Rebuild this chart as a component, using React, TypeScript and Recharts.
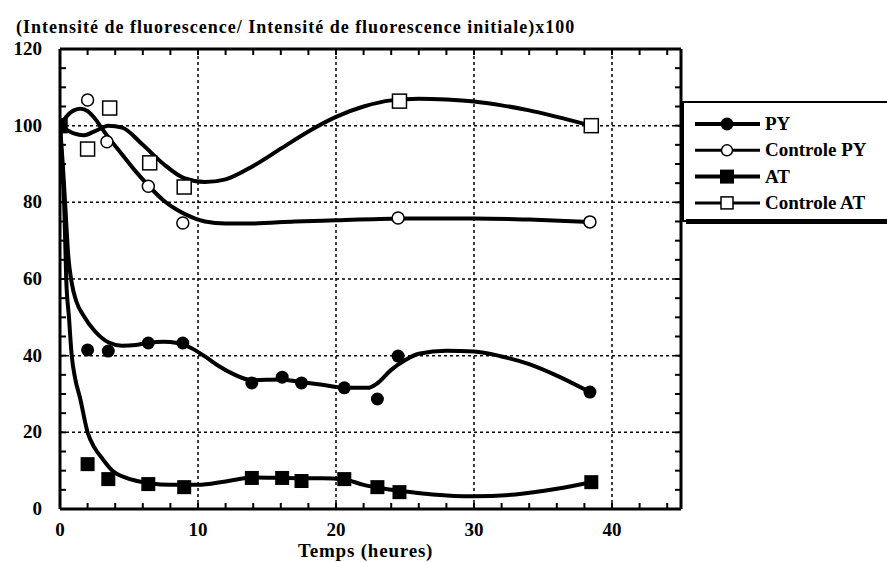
import React from "react";
import {
  ComposedChart,
  Line,
  Scatter,
  XAxis,
  YAxis,
  ReferenceLine,
} from "recharts";

// measured points
const pyTimes = [0, 2.0, 3.5, 6.4, 8.9, 13.9, 16.1, 17.5, 20.6, 23.0, 24.5, 38.4];
const pyValues = [100, 41.5, 41.2, 43.3, 43.3, 32.9, 34.4, 32.9, 31.6, 28.7, 39.9, 30.5];

const ctrlPyTimes = [0, 2.0, 3.4, 6.4, 8.9, 24.5, 38.4];
const ctrlPyValues = [100, 106.7, 95.8, 84.2, 74.6, 75.9, 74.9];

const atTimes = [0, 2.0, 3.5, 6.4, 9.0, 13.9, 16.1, 17.5, 20.6, 23.0, 24.6, 38.5];
const atValues = [100, 11.7, 7.8, 6.5, 5.7, 8.1, 8.1, 7.3, 7.8, 5.7, 4.4, 7.0];

const ctrlAtTimes = [0, 2.0, 3.6, 6.5, 9.0, 24.6, 38.5];
const ctrlAtValues = [100, 93.9, 104.6, 90.3, 84.0, 106.4, 100];

// fitted curves
const pyFitTimes = [0, 0.2, 0.4, 0.6, 0.85, 1.2, 1.7, 2.5, 3.5, 4.5, 5.5, 6.5, 7.5, 8.5, 9.5, 10.5, 11.5, 12.5, 13.9, 16, 17.5, 19, 20.6, 22.3, 23, 24, 25, 26, 28, 30, 32, 34, 36, 38.4];
const pyFitValues = [100, 90, 78, 66, 59, 54, 50.5, 46.5, 43.5, 42.6, 42.8, 43.4, 43.6, 43.3, 42, 39.8, 37.3, 35.3, 33.6, 33.8, 33.1, 32.4, 31.6, 31.6, 32.8, 36.3, 38.8, 40.5, 41.3, 41.1, 39.8, 37.8, 34.8, 30.5];

const ctrlPyFitTimes = [0, 0.5, 1, 1.5, 2, 2.5, 3, 3.5, 4.5, 5.5, 6.5, 7.5, 8.5, 9.5, 10.5, 12, 14, 17, 20, 25, 30, 34, 38.4];
const ctrlPyFitValues = [100, 102.5, 104, 104.4, 103.8, 102, 99.5, 97, 92.5, 88, 84, 80.5, 78, 76.2, 75, 74.5, 74.5, 75, 75.3, 75.8, 75.8, 75.5, 74.9];

const atFitTimes = [0, 0.15, 0.3, 0.45, 0.65, 0.85, 1.1, 1.45, 2.0, 2.5, 3.1, 3.8, 4.8, 6.4, 8, 10, 12, 14, 16, 17.5, 19, 20.6, 22, 23.5, 25, 27, 30, 33, 36, 38.5];
const atFitValues = [100, 90, 80, 60, 50, 40, 34, 29, 20, 16, 13, 10, 8.1, 6.8, 6.3, 6.3, 7.2, 8.2, 8.1, 8.0, 8.0, 7.7, 6.3, 5.3, 4.6, 3.8, 3.3, 3.8, 5.3, 7.0];

const ctrlAtFitTimes = [0, 1, 1.7, 2.5, 3.5, 4.5, 6, 7.5, 9, 10.5, 12, 14, 16, 18, 20, 22, 24, 26, 28, 30, 32, 34, 36, 38.5];
const ctrlAtFitValues = [100, 98, 97.5, 98.5, 100, 99.5, 95, 90, 86.3, 85.3, 86, 89.5, 94, 98.5, 102.3, 105, 106.6, 107, 106.8, 106.3, 105.3, 104, 102.3, 100];

// axis ticks
const xTicks = [0, 2, 4, 6, 8, 10, 12, 14, 16, 18, 20, 22, 24, 26, 28, 30, 32, 34, 36, 38, 40, 42, 44];
const xLabels = [0, 10, 20, 30, 40];
const yTicks = [0, 5, 10, 15, 20, 25, 30, 35, 40, 45, 50, 55, 60, 65, 70, 75, 80, 85, 90, 95, 100, 105, 110, 115, 120];
const yLabels = [0, 20, 40, 60, 80, 100, 120];
const xGrid = [10, 20, 30, 40];
const yGrid = [20, 40, 60, 80, 100];

const legendNames = ["PY", "Controle PY", "AT", "Controle AT"];

const zip = (xs: number[], ys: number[]) => xs.map((x, i) => ({ x, y: ys[i] }));

const FONT = "Liberation Serif, DejaVu Serif, Times New Roman, serif";
const TICK_LEN = 6;

const BottomTick = (props: any) => {
  const { x, y, payload } = props;
  const v = payload.value;
  return (
    <g>
      <line x1={x} y1={y} x2={x} y2={y - TICK_LEN} stroke="#000" strokeWidth={2} />
      {xLabels.includes(v) && (
        <text x={x} y={y + 27} textAnchor="middle" style={{ fontFamily: FONT, fontWeight: 900, fontSize: 19 }} fill="#000">
          {v}
        </text>
      )}
    </g>
  );
};

const TopTick = (props: any) => {
  const { x, y } = props;
  return <line x1={x} y1={y} x2={x} y2={y + TICK_LEN} stroke="#000" strokeWidth={2} />;
};

const LeftTick = (props: any) => {
  const { x, y, payload } = props;
  const v = payload.value;
  return (
    <g>
      <line x1={x} y1={y} x2={x + TICK_LEN} y2={y} stroke="#000" strokeWidth={2} />
      {yLabels.includes(v) && (
        <text x={x - 18} y={y + 6} textAnchor="end" style={{ fontFamily: FONT, fontWeight: 900, fontSize: 19 }} fill="#000">
          {v}
        </text>
      )}
    </g>
  );
};

const RightTick = (props: any) => {
  const { x, y } = props;
  return <line x1={x} y1={y} x2={x - TICK_LEN} y2={y} stroke="#000" strokeWidth={2} />;
};

const FilledCircle = (p: any) => <circle cx={p.cx} cy={p.cy} r={6.5} fill="#000" />;
const OpenCircle = (p: any) => <circle cx={p.cx} cy={p.cy} r={6} fill="#fff" stroke="#000" strokeWidth={1.5} />;
const FilledSquare = (p: any) => <rect x={p.cx - 7} y={p.cy - 7} width={14} height={14} fill="#000" />;
const OpenSquare = (p: any) => <rect x={p.cx - 7} y={p.cy - 7} width={14} height={14} fill="#fff" stroke="#000" strokeWidth={1.5} />;

const markers = [
  (cx: number, cy: number) => <circle cx={cx} cy={cy} r={6.5} fill="#000" />,
  (cx: number, cy: number) => <circle cx={cx} cy={cy} r={5.5} fill="#fff" stroke="#000" strokeWidth={1.5} />,
  (cx: number, cy: number) => <rect x={cx - 7} y={cy - 7} width={14} height={14} fill="#000" />,
  (cx: number, cy: number) => <rect x={cx - 6} y={cy - 6} width={12} height={12} fill="#fff" stroke="#000" strokeWidth={1.5} />,
];

const Legend = () => (
  <svg width={205} height={130} style={{ position: "absolute", left: 682, top: 100 }}>
    <rect x={1} y={2} width={220} height={119} fill="#fff" stroke="#000" strokeWidth={2} />
    <rect x={4} y={119} width={220} height={5} fill="#000" />
    {legendNames.map((name, i) => {
      const cy = 24 + i * 26.3;
      return (
        <g key={name}>
          <line x1={13} y1={cy} x2={78} y2={cy} stroke="#000" strokeWidth={i % 2 === 0 ? 4 : 3} />
          {markers[i](45, cy)}
          <text x={83} y={cy + 6} style={{ fontFamily: FONT, fontWeight: 900, fontSize: 19 }} fill="#000">
            {name}
          </text>
        </g>
      );
    })}
  </svg>
);

export default function App() {
  const dash = "3 3";
  return (
    <div style={{ position: "absolute", left: 0, top: 0, width: 887, height: 562, background: "#fff" }}>
      <div
        style={{
          position: "absolute",
          left: 16,
          top: 19,
          fontFamily: FONT,
          fontWeight: 900,
          fontSize: 18,
          lineHeight: "17px",
          letterSpacing: 1,
          color: "#000",
          whiteSpace: "nowrap",
        }}
      >
        (Intensité de fluorescence/ Intensité de fluorescence initiale)x100
      </div>
      <div style={{ position: "absolute", left: 0, top: 0 }}>
        <ComposedChart width={887} height={562} margin={{ top: 0, right: 0, bottom: 0, left: 0 }}>
          <XAxis
            xAxisId={0}
            dataKey="x"
            type="number"
            domain={[0, 45]}
            ticks={xTicks}
            interval={0}
            allowDataOverflow
            height={53}
            tickSize={0}
            tickMargin={0}
            tickLine={false}
            axisLine={{ stroke: "#000", strokeWidth: 3 }}
            tick={<BottomTick />}
          />
          <XAxis
            xAxisId="top"
            orientation="top"
            dataKey="x"
            type="number"
            domain={[0, 45]}
            ticks={xTicks}
            interval={0}
            allowDataOverflow
            height={49}
            tickSize={0}
            tickMargin={0}
            tickLine={false}
            axisLine={{ stroke: "#000", strokeWidth: 3 }}
            tick={<TopTick />}
          />
          <YAxis
            yAxisId={0}
            type="number"
            domain={[0, 120]}
            ticks={yTicks}
            interval={0}
            allowDataOverflow
            width={60}
            tickSize={0}
            tickMargin={0}
            tickLine={false}
            axisLine={{ stroke: "#000", strokeWidth: 3 }}
            tick={<LeftTick />}
          />
          <YAxis
            yAxisId="right"
            orientation="right"
            type="number"
            domain={[0, 120]}
            ticks={yTicks}
            interval={0}
            allowDataOverflow
            width={206}
            tickSize={0}
            tickMargin={0}
            tickLine={false}
            axisLine={{ stroke: "#000", strokeWidth: 3 }}
            tick={<RightTick />}
          />
          {xGrid.map((v) => (
            <ReferenceLine key={"vx" + v} x={v} stroke="#000" strokeWidth={1.5} strokeDasharray={dash} />
          ))}
          {yGrid.map((v) => (
            <ReferenceLine key={"hy" + v} y={v} stroke="#000" strokeWidth={1.5} strokeDasharray={dash} />
          ))}
          <Line data={zip(ctrlAtFitTimes, ctrlAtFitValues)} dataKey="y" type="monotone" stroke="#000" strokeWidth={4} dot={false} activeDot={false} isAnimationActive={false} />
          <Line data={zip(ctrlPyFitTimes, ctrlPyFitValues)} dataKey="y" type="monotone" stroke="#000" strokeWidth={4} dot={false} activeDot={false} isAnimationActive={false} />
          <Line data={zip(pyFitTimes, pyFitValues)} dataKey="y" type="monotone" stroke="#000" strokeWidth={4} dot={false} activeDot={false} isAnimationActive={false} />
          <Line data={zip(atFitTimes, atFitValues)} dataKey="y" type="monotone" stroke="#000" strokeWidth={4} dot={false} activeDot={false} isAnimationActive={false} />
          <Scatter data={zip(ctrlPyTimes, ctrlPyValues)} dataKey="y" shape={OpenCircle} isAnimationActive={false} />
          <Scatter data={zip(ctrlAtTimes, ctrlAtValues)} dataKey="y" shape={OpenSquare} isAnimationActive={false} />
          <Scatter data={zip(pyTimes, pyValues)} dataKey="y" shape={FilledCircle} isAnimationActive={false} />
          <Scatter data={zip(atTimes, atValues)} dataKey="y" shape={FilledSquare} isAnimationActive={false} />
        </ComposedChart>
      </div>
      <div
        style={{
          position: "absolute",
          left: 298,
          top: 540,
          fontFamily: FONT,
          fontWeight: 900,
          fontSize: 19,
          letterSpacing: 0.8,
          color: "#000",
          whiteSpace: "nowrap",
        }}
      >
        Temps (heures)
      </div>
      <Legend />
    </div>
  );
}
